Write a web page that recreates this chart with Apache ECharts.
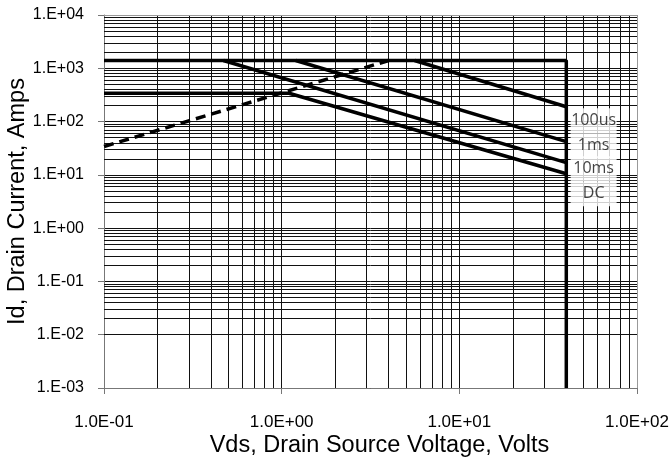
<!DOCTYPE html>
<html><head><meta charset="utf-8">
<script src="https://cdn.jsdelivr.net/npm/echarts@6/dist/echarts.min.js"></script>
<style>html,body{margin:0;padding:0;background:#fff}#c{width:672px;height:466px}</style>
</head><body><div id="c"></div>
<script>
// Data (Vds in volts, Id in amps)
const limitX = [0.1, 40, 40];
const limitY = [1400, 1400, 0.001];
const dcX = [0.1, 1.1, 40];
const dcY = [340, 340, 10.5];
const ms10X = [0.47, 40];
const ms10Y = [1400, 17];
const ms1X = [1.2, 40];
const ms1Y = [1400, 42];
const us100X = [5.6, 40];
const us100Y = [1400, 190];
const rdsX = [0.1, 4.0];
const rdsY = [34, 1400];
const curveLabels = ['100us', '1ms', '10ms', 'DC'];
const labelX = [57, 57, 57, 57];
const labelY = [104, 35, 13, 4.4];
const xTickValues = [0.1, 1, 10, 100];
const yTickValues = [0.001, 0.01, 0.1, 1, 10, 100, 1000, 10000];

function pair(xs, ys) { return xs.map((x, i) => [x, ys[i]]); }
function expStr(v) {
  const e = Math.round(Math.log10(v));
  const s = e < 0 ? '-' : '+';
  const a = Math.abs(e);
  return s + (a < 10 ? '0' : '') + a;
}
// minor grid values 2..9 per decade
const minorX = [], minorY = [];
for (let e = -1; e < 2; e++) for (let m = 2; m <= 9; m++) minorX.push(+(m * Math.pow(10, e)).toPrecision(3));
for (let e = -3; e < 4; e++) for (let m = 2; m <= 9; m++) minorY.push(+(m * Math.pow(10, e)).toPrecision(3));

const lineStyleBold = { color: '#000', width: 3.5 };
function lineSeries(xs, ys, dashed) {
  return {
    type: 'line', data: pair(xs, ys), symbol: 'none', silent: true,
    lineStyle: Object.assign({}, lineStyleBold, dashed ? { type: [10, 6] } : {}),
    z: 5
  };
}

const chart = echarts.init(document.getElementById('c'), null, { renderer: 'canvas' });
chart.setOption({
  animation: false,
  backgroundColor: '#fff',
  grid: { left: 104, right: 35, top: 15, bottom: 78, show: false, containLabel: false, outerBoundsMode: 'none' },
  xAxis: {
    type: 'log', logBase: 10, min: 0.1, max: 100,
    name: 'Vds, Drain Source Voltage, Volts', nameLocation: 'middle', nameGap: 46, nameMoveOverlap: false,
    nameTextStyle: { fontFamily: 'Liberation Sans', fontSize: 23.5, color: '#000', padding: [0, 0, 0, 18] },
    axisLine: { show: true, onZero: false, lineStyle: { color: '#777', width: 1 } },
    axisTick: { show: true, length: 6, lineStyle: { color: '#777' } },
    axisLabel: { fontFamily: 'Liberation Sans', fontSize: 17, color: '#000', margin: 26,
      formatter: v => '1.0E' + expStr(v) },
    splitLine: { show: true, lineStyle: { color: '#111', width: 1 } }
  },
  yAxis: {
    type: 'log', logBase: 10, min: 0.001, max: 10000,
    name: 'Id, Drain Current, Amps', nameLocation: 'middle', nameGap: 74, nameMoveOverlap: false,
    nameTextStyle: { fontFamily: 'Liberation Sans', fontSize: 23.5, color: '#000' },
    axisLine: { show: true, onZero: false, lineStyle: { color: '#777', width: 1 } },
    axisTick: { show: true, length: 6, lineStyle: { color: '#777' } },
    axisLabel: { fontFamily: 'Liberation Sans', fontSize: 16, color: '#000', margin: 20,
      formatter: v => '1.E' + expStr(v) },
    splitLine: { show: true, lineStyle: { color: '#111', width: 1 } }
  },
  series: [
    {
      type: 'line', data: [], silent: true, symbol: 'none', z: 1,
      markLine: {
        silent: true, symbol: 'none', animation: false,
        label: { show: false },
        lineStyle: { color: '#111', width: 1, type: 'solid' },
        data: minorX.map(v => ({ xAxis: v })).concat(minorY.map(v => ({ yAxis: v })))
      }
    },
    {
      type: 'line', data: [], silent: true, symbol: 'none', z: 1,
      markLine: {
        silent: true, symbol: 'none', animation: false,
        label: { show: false },
        lineStyle: { color: '#999', width: 1, type: 'solid' },
        data: [{ xAxis: 100 }, { yAxis: 10000 }]
      }
    },
    lineSeries(limitX, limitY),
    lineSeries(dcX, dcY),
    lineSeries(ms10X, ms10Y),
    lineSeries(ms1X, ms1Y),
    lineSeries(us100X, us100Y),
    lineSeries(rdsX, rdsY, true),
    {
      type: 'scatter', symbolSize: 0, silent: true, z: 10,
      data: curveLabels.map((t, i) => ({ value: [labelX[i], labelY[i]], name: t })),
      label: {
        show: true, position: 'inside', formatter: p => p.name,
        fontFamily: 'Open Sans', fontSize: 16, color: '#111',
        backgroundColor: '#fff', width: 46, height: 25, align: 'center',
        verticalAlign: 'middle', lineHeight: 25, padding: 0
      }
    }
  ]
});
</script></body></html>
